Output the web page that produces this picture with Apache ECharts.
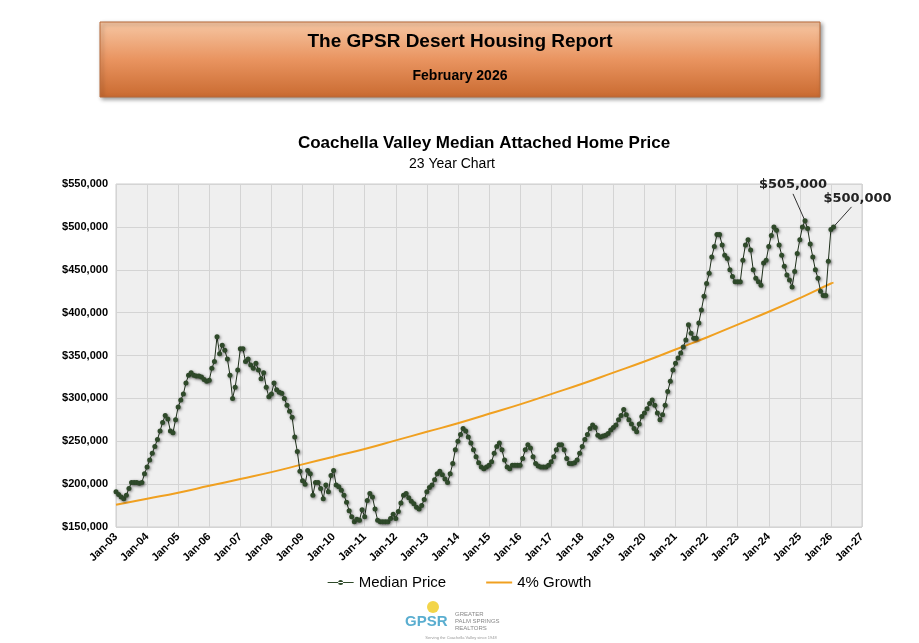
<!DOCTYPE html>
<html><head><meta charset="utf-8">
<script src="https://cdn.jsdelivr.net/npm/echarts@6/dist/echarts.min.js"></script>
<style>html,body{margin:0;padding:0;background:#fff}#c{width:919px;height:643px}</style>
</head><body><div id="c"></div>
<script>
// Monthly median price (thousands $), Jan-03 .. Feb-26
const y2003=[191,188,185,183,187,195,202,202,202,201,202,212];
const y2004=[220,228,236,244,252,262,272,280,276,262,260,275];
const y2005=[290,298,305,318,327,330,327,326,326,325,322,320];
const y2006=[321,335,343,372,352,362,356,346,327,300,313,333];
const y2007=[358,358,343,346,339,335,341,333,323,330,313,302];
const y2008=[305,318,310,307,306,300,292,285,278,255,238,215];
const y2009=[204,200,216,212,187,202,202,195,183,199,191,210];
const y2010=[216,199,197,193,187,179,169,162,156,159,158,170];
const y2011=[162,181,189,185,171,158,156,156,156,156,160,165];
const y2012=[160,168,178,187,189,184,180,177,173,171,175,182];
const y2013=[191,196,199,205,212,215,211,206,202,212,224,240];
const y2014=[250,258,265,262,255,248,240,232,225,220,218,220];
const y2015=[222,226,236,244,248,240,228,220,218,222,222,222];
const y2016=[222,230,240,246,242,232,224,221,220,220,220,222];
const y2017=[226,232,240,246,246,240,230,224,224,225,228,236];
const y2018=[244,252,258,265,269,266,257,255,256,257,259,263];
const y2019=[266,269,275,280,287,281,275,270,265,261,270,279];
const y2020=[283,288,294,298,292,283,275,281,292,308,320,333];
const y2021=[341,347,353,360,368,386,376,370,370,388,403,419];
const y2022=[434,446,465,477,491,491,479,467,463,450,442,436];
const y2023=[436,436,461,479,485,473,450,440,436,432,458,461];
const y2024=[477,490,500,496,479,467,454,444,438,430,448,469];
const y2025=[485,500,507,498,480,465,450,440,425,420,420,460];
const y2026=[497,500];
// 4% growth line, value at each January (thousands $), Jan-03 .. Jan-26, then Feb-26
const growthJan=[176,183,190,198,206,214,223,232,241,251,261,271,282,293,305,317,330,343,357,371,386,401,417,434];
const growthEnd=435;
const yTicks=[150,200,250,300,350,400,450,500,550];

const median=[].concat(y2003,y2004,y2005,y2006,y2007,y2008,y2009,y2010,y2011,y2012,y2013,y2014,y2015,y2016,y2017,y2018,y2019,y2020,y2021,y2022,y2023,y2024,y2025,y2026);
const medData=median.map((v,i)=>[i,v*1000]);
const growData=growthJan.map((v,i)=>[i*12,v*1000]);
growData.push([median.length-1,growthEnd*1000]);
let peakIdx=22*12; for(let i=22*12;i<median.length;i++) if(median[i]>median[peakIdx]) peakIdx=i;
const lastIdx=median.length-1;

const chart=echarts.init(document.getElementById('c'));
const money=v=>'$'+Math.round(v).toLocaleString('en-US');
chart.setOption({
  animation:false,
  backgroundColor:'#fff',
  graphic:[
    {type:'rect',shape:{x:100,y:22,width:720,height:75},style:{fill:new echarts.graphic.LinearGradient(0,0,0,1,[{offset:0,color:'#f6c7a4'},{offset:0.5,color:'#e99460'},{offset:1,color:'#c96a30'}]),stroke:'#b86a3a',lineWidth:1,shadowBlur:4,shadowColor:'rgba(0,0,0,0.4)',shadowOffsetX:2,shadowOffsetY:2}},
    {type:'text',x:460,y:42,style:{text:'The GPSR Desert Housing Report',font:'bold 19px Arial, "Liberation Sans", sans-serif',fill:'#000',align:'center',verticalAlign:'middle'}},
    {type:'text',x:460,y:76,style:{text:'February 2026',font:'bold 14px Arial, "Liberation Sans", sans-serif',fill:'#000',align:'center',verticalAlign:'middle'}},
    {type:'text',x:484,y:143,style:{text:'Coachella Valley Median Attached Home Price',font:'bold 17px Arial, "Liberation Sans", sans-serif',fill:'#000',align:'center',verticalAlign:'middle'}},
    {type:'text',x:452,y:164,style:{text:'23 Year Chart',font:'14px Arial, "Liberation Sans", sans-serif',fill:'#000',align:'center',verticalAlign:'middle'}},
    {type:'text',x:405,y:622,style:{text:'GPSR',font:'bold 15px Arial, sans-serif',fill:'#5aaed0',verticalAlign:'middle'}},
    {type:'circle',shape:{cx:433,cy:607,r:6},style:{fill:'#f3d54a'}},
    {type:'text',x:455,y:611,style:{text:'GREATER\nPALM SPRINGS\nREALTORS',font:'6px Arial, sans-serif',fill:'#888',lineHeight:7}},
    {type:'text',x:461,y:636,style:{text:'Serving the Coachella Valley since 1948',font:'4px Arial, sans-serif',fill:'#999',align:'center'}}
  ],
  legend:{bottom:48,left:'center',itemGap:40,itemWidth:26,itemHeight:10,textStyle:{fontSize:15,fontFamily:'Arial, "Liberation Sans", sans-serif',color:'#000'},
    data:[{name:'Median Price',icon:'path://M0,4.5H26V5.5H0ZM13,5m-2.5,0a2.5,2.5 0 1,0 5,0a2.5,2.5 0 1,0 -5,0'},{name:'4% Growth',icon:'path://M0,4H26V6H0Z',itemStyle:{color:'#f0a020'}}]},
  grid:{left:116,right:57,top:184,bottom:116,show:true,backgroundColor:'#efefef',borderColor:'#cccccc',borderWidth:1},
  xAxis:{type:'value',min:0,max:288,interval:12,
    axisLine:{show:false},axisTick:{show:false},
    splitLine:{show:true,lineStyle:{color:'#d4d4d4'}},
    axisLabel:{rotate:45,fontWeight:'bold',fontSize:11,color:'#000',fontFamily:'Arial, "Liberation Sans", sans-serif',margin:8,
      formatter:v=>'Jan-'+String(3+v/12).padStart(2,'0')}},
  yAxis:{type:'value',min:yTicks[0]*1000,max:yTicks[yTicks.length-1]*1000,interval:50000,
    axisLine:{show:false},axisTick:{show:false},
    splitLine:{lineStyle:{color:'#d4d4d4'}},
    axisLabel:{fontWeight:'bold',fontSize:11,color:'#000',fontFamily:'Arial, "Liberation Sans", sans-serif',formatter:money}},
  series:[
    {name:'4% Growth',type:'line',data:growData,smooth:true,showSymbol:false,lineStyle:{color:'#f0a020',width:2},itemStyle:{color:'#f0a020'},z:2},
    {name:'Median Price',type:'line',data:medData,symbol:'circle',symbolSize:5,
      lineStyle:{color:'#1e2e1a',width:1},
      itemStyle:{color:'#2f4a2a',shadowBlur:3,shadowColor:'rgba(0,0,0,0.5)',shadowOffsetX:1,shadowOffsetY:1},z:3}
  ]
});
function addLeaders(){
  const p1=chart.convertToPixel({gridIndex:0},[peakIdx,median[peakIdx]*1000]);
  const p2=chart.convertToPixel({gridIndex:0},[lastIdx,median[lastIdx]*1000]);
  const g=chart.getOption().graphic[0].elements.slice();
  g.push({type:'line',shape:{x1:p1[0],y1:p1[1],x2:p1[0]-12,y2:p1[1]-27},style:{stroke:'#000',lineWidth:0.8}});
  g.push({type:'text',x:p1[0]-12,y:p1[1]-30,style:{text:'$505,000',font:'bold 13px "DejaVu Sans", sans-serif',fill:'#222',align:'center',verticalAlign:'bottom'}});
  g.push({type:'line',shape:{x1:p2[0],y1:p2[1],x2:p2[0]+18,y2:p2[1]-20},style:{stroke:'#000',lineWidth:0.8}});
  g.push({type:'text',x:p2[0]+24,y:p2[1]-22,style:{text:'$500,000',font:'bold 13px "DejaVu Sans", sans-serif',fill:'#222',align:'center',verticalAlign:'bottom'}});
  chart.setOption({graphic:g},{replaceMerge:['graphic']});
}
addLeaders();
</script></body></html>
